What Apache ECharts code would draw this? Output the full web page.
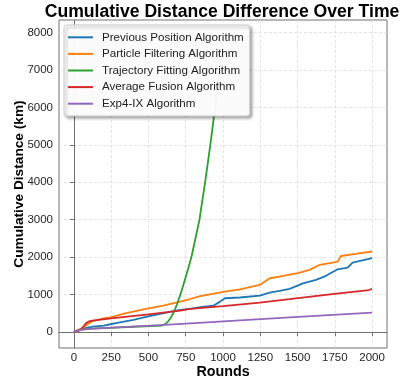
<!DOCTYPE html>
<html>
<head>
<meta charset="utf-8">
<script src="https://cdn.jsdelivr.net/npm/echarts@6/dist/echarts.min.js"></script>
<style>html,body{margin:0;padding:0;background:#fff}#c{width:402px;height:380px}</style>
</head>
<body>
<div id="c"></div>
<script>
const seriesNames = ['Previous Position Algorithm', 'Particle Filtering Algorithm', 'Trajectory Fitting Algorithm', 'Average Fusion Algorithm', 'Exp4-IX Algorithm'];
const xTicks = [0, 250, 500, 750, 1000, 1250, 1500, 1750, 2000];
const yTicks = [0, 1000, 2000, 3000, 4000, 5000, 6000, 7000, 8000];

const prevRounds = [0, 50, 125, 200, 245, 300, 400, 491, 580, 660, 713, 780, 847, 936, 980, 1013, 1113, 1247, 1313, 1380, 1447, 1536, 1624, 1691, 1769, 1836, 1869, 2000];
const prevValues = [0, 80, 140, 170, 205, 250, 320, 410, 480, 550, 590, 615, 660, 700, 810, 900, 920, 970, 1050, 1095, 1150, 1300, 1390, 1500, 1675, 1720, 1855, 1970];

const partRounds = [0, 50, 125, 200, 245, 350, 491, 600, 713, 780, 847, 1002, 1113, 1247, 1313, 1380, 1447, 1502, 1580, 1647, 1747, 1769, 1791, 1891, 2000];
const partValues = [0, 90, 290, 360, 390, 500, 620, 700, 810, 880, 960, 1070, 1140, 1257, 1435, 1480, 1530, 1570, 1660, 1790, 1860, 1880, 2030, 2085, 2150];

const trajRounds = [0, 50, 125, 590, 610, 630, 650, 670, 690, 710, 730, 750, 770, 790, 842, 880, 915, 947, 977, 1000];
const trajValues = [0, 60, 90, 172, 200, 270, 380, 530, 720, 950, 1200, 1470, 1740, 2030, 3000, 4000, 5000, 6000, 7000, 7700];

const avgRounds = [0, 40, 60, 80, 100, 125, 250, 500, 713, 780, 1000, 1247, 1447, 1747, 1980, 2000];
const avgValues = [0, 40, 120, 230, 280, 300, 360, 470, 570, 615, 690, 785, 875, 1015, 1120, 1155];

const expRounds = [0, 50, 125, 580, 780, 1447, 2000];
const expValues = [0, 60, 90, 180, 230, 390, 516];

const colors = ['#1f77b4', '#ff7f0e', '#2ca02c', '#d62728', '#9467bd'];
const allRounds = [prevRounds, partRounds, trajRounds, avgRounds, expRounds];
const allValues = [prevValues, partValues, trajValues, avgValues, expValues];

const font = 'Liberation Sans, Arial, sans-serif';
const chart = echarts.init(document.getElementById('c'), null, {renderer: 'canvas'});
chart.setOption({
  animation: false,
  backgroundColor: '#fff',
  color: colors,
  title: {
    text: 'Cumulative Distance Difference Over Time',
    left: 222, top: 3, textAlign: 'center', padding: 0,
    textStyle: {fontFamily: font, fontWeight: 'bold', fontSize: 17.6, color: '#000'}
  },
  legend: {
    orient: 'vertical', left: 64, top: 25,
    padding: [4, 6, 4, 4], itemGap: 0,
    itemWidth: 25, itemHeight: 2, icon: 'rect',
    backgroundColor: 'rgba(255,255,255,0.95)', borderColor: '#cccccc', borderWidth: 1, borderRadius: 3,
    shadowColor: 'rgba(0,0,0,0.35)', shadowBlur: 3, shadowOffsetX: 2, shadowOffsetY: 2,
    textStyle: {fontFamily: font, fontSize: 11.6, color: '#222', lineHeight: 16.6, padding: [0, 0, 0, 4]},
    data: seriesNames
  },
  grid: {left: 59, right: 15, top: 20, bottom: 32, outerBoundsMode: 'none', containLabel: false, show: true, borderColor: '#707070', borderWidth: 1, backgroundColor: 'transparent'},
  xAxis: {
    type: 'value', min: -100, max: 2100,
    name: 'Rounds', nameLocation: 'middle', nameGap: 17, nameMoveOverlap: false,
    nameTextStyle: {fontFamily: font, fontWeight: 'bold', fontSize: 14.3, color: '#000', verticalAlign: 'top'},
    axisLine: {show: true, lineStyle: {color: '#707070'}},
    axisTick: {show: true, length: 4, inside: false, customValues: xTicks, lineStyle: {color: '#707070'}},
    axisLabel: {customValues: xTicks, margin: 3.5, fontFamily: font, fontSize: 11.5, color: '#262626', formatter: v => String(v)},
    splitLine: {show: true, lineStyle: {color: '#dddddd', type: [3, 2], width: 0.8}}
  },
  yAxis: {
    type: 'value', min: -430, max: 8340,
    name: 'Cumulative Distance (km)', nameLocation: 'middle', nameGap: 33, nameMoveOverlap: false,
    nameTextStyle: {fontFamily: font, fontWeight: 'bold', fontSize: 13.7, color: '#000'},
    axisLine: {show: true, lineStyle: {color: '#707070'}},
    axisTick: {show: true, length: 4, inside: false, customValues: yTicks, lineStyle: {color: '#707070'}},
    axisLabel: {customValues: yTicks, margin: 6, fontFamily: font, fontSize: 11.5, color: '#262626', formatter: v => String(v)},
    splitLine: {show: true, lineStyle: {color: '#dddddd', type: [3, 2], width: 0.8}}
  },
  series: seriesNames.map((n, i) => ({
    name: n, type: 'line', showSymbol: false, symbol: 'none', clip: true,
    lineStyle: {width: 1.8, color: colors[i]},
    data: allRounds[i].map((r, j) => [r, allValues[i][j]])
  }))
});
</script>
</body>
</html>
